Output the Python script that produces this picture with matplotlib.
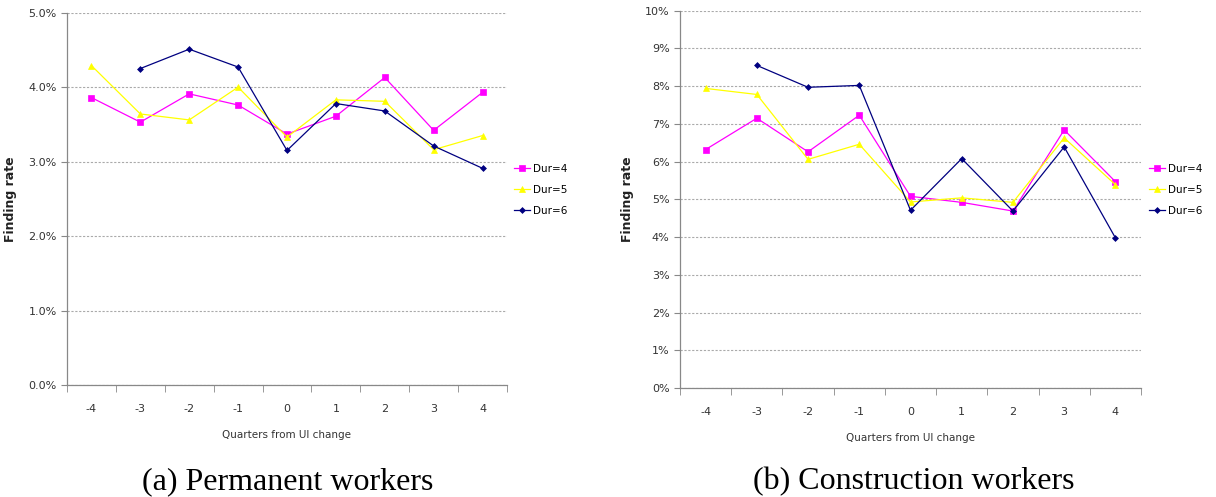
import numpy as np
import matplotlib.pyplot as plt
from matplotlib.ticker import FuncFormatter

quarters = [-4, -3, -2, -1, 0, 1, 2, 3, 4]

# permanent workers, finding rate in %
perm_dur4 = [3.86, 3.53, 3.91, 3.76, 3.37, 3.61, 4.13, 3.42, 3.93]
perm_dur5 = [4.29, 3.64, 3.56, 4.00, 3.33, 3.83, 3.81, 3.16, 3.35]
perm_dur6 = [np.nan, 4.25, 4.51, 4.27, 3.15, 3.78, 3.68, 3.21, 2.91]

# construction workers, finding rate in %
cons_dur4 = [6.32, 7.15, 6.26, 7.23, 5.08, 4.92, 4.69, 6.84, 5.47]
cons_dur5 = [7.94, 7.78, 6.06, 6.46, 4.93, 5.04, 4.92, 6.63, 5.39]
cons_dur6 = [np.nan, 8.55, 7.97, 8.02, 4.71, 6.08, 4.69, 6.39, 3.98]

series_labels = ['Dur=4', 'Dur=5', 'Dur=6']
captions = ['(a) Permanent workers', '(b) Construction workers']

colors = ['#ff00ff', '#ffff00', '#000080']
markers = ['s', '^', 'D']
msizes = [4, 4, 3]

fig = plt.figure(figsize=(12.16, 4.97), dpi=100)
W, H = 1216, 497


def px_axes(left, top, right, bottom):
  return fig.add_axes([left / W, 1 - bottom / H, (right - left) / W, (bottom - top) / H])


def draw_panel(ax, data, ymax, step, fmt, legend_xy):
  x = np.arange(len(quarters))
  for vals, lab, c, m, ms in zip(data, series_labels, colors, markers, msizes):
    ax.plot(x, vals, color=c, marker=m, markersize=ms, linewidth=0.9, label=lab,
            markeredgewidth=0.5, markeredgecolor=c)
  ax.set_xlim(-0.5, len(quarters) - 0.5)
  ax.set_ylim(0, ymax)
  ax.set_yticks(np.arange(0, ymax + step / 2, step))
  ax.yaxis.set_major_formatter(FuncFormatter(fmt))
  ax.set_xticks(x)
  ax.set_xticklabels([str(q) for q in quarters])
  ax.set_xticks(np.arange(-0.5, len(quarters), 1.0), minor=True)
  ax.tick_params(axis='x', which='major', length=0, labelsize=8, pad=14, colors='#333333')
  ax.tick_params(axis='x', which='minor', length=5, color='#888888', direction='out')
  ax.tick_params(axis='y', length=4, color='#888888', labelsize=8, colors='#333333')
  ax.grid(axis='y', linestyle=(0, (2, 1.5)), color='#aaaaaa', linewidth=0.8)
  for side in ['top', 'right']:
    ax.spines[side].set_visible(False)
  for side in ['left', 'bottom']:
    ax.spines[side].set_color('#888888')
    ax.spines[side].set_linewidth(0.9)
  ax.set_xlabel('Quarters from UI change', fontsize=7.5, color='#333333', labelpad=11)
  ax.set_ylabel('Finding rate', fontsize=9, fontweight='bold', color='#222222', labelpad=8)
  ax.legend(loc='center left', bbox_to_anchor=(legend_xy[0] / W, 1 - legend_xy[1] / H),
            bbox_transform=fig.transFigure, frameon=False, borderpad=0, borderaxespad=0,
            fontsize=7.5, handlelength=1.5, handletextpad=0.3, labelspacing=1.05)


ax1 = px_axes(67, 12.7, 507, 385)
draw_panel(ax1, [perm_dur4, perm_dur5, perm_dur6], 5.0, 1.0,
           lambda v, p: f'{v:.1f}%', (514, 190))

ax2 = px_axes(680, 10.7, 1141, 388)
draw_panel(ax2, [cons_dur4, cons_dur5, cons_dur6], 10, 1,
           lambda v, p: f'{v:.0f}%', (1149, 190))

fig.text(288 / W, 1 - 482 / H, captions[0], ha='center', va='center',
         family='Liberation Serif', fontsize=23)
fig.text(914 / W, 1 - 482 / H, captions[1], ha='center', va='center',
         family='Liberation Serif', fontsize=23)

fig.savefig('out.png', dpi=100)
